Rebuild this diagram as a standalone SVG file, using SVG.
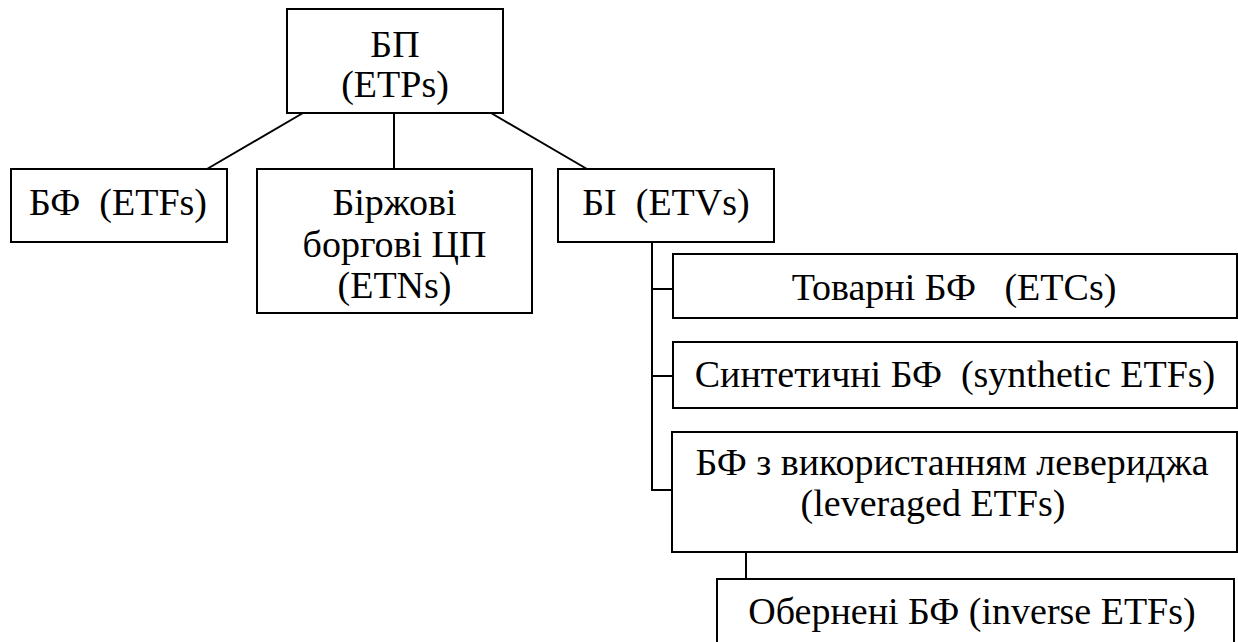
<svg xmlns="http://www.w3.org/2000/svg" width="1238" height="642" viewBox="0 0 1238 642">
  <style>
    .box { fill: #ffffff; stroke: #000000; stroke-width: 2; }
    .lnk { fill: none; stroke: #000000; stroke-width: 2; }
    .lbl { font-size: 38px; fill: #000000; text-anchor: middle; }
  </style>
  <rect width="1238" height="642" fill="#ffffff"/>

  <!-- connectors -->
  <g id="connectors">
    <line class="lnk" x1="303" y1="113" x2="207" y2="169"/>
    <line class="lnk" x1="394" y1="113" x2="394" y2="169"/>
    <line class="lnk" x1="491" y1="113" x2="587" y2="169"/>
    <polyline class="lnk" points="652,242 652,490 672,490"/>
    <line class="lnk" x1="652" y1="289" x2="673" y2="289"/>
    <line class="lnk" x1="652" y1="376" x2="673" y2="376"/>
    <line class="lnk" x1="746" y1="552" x2="746" y2="579"/>
  </g>

  <g font-family="'Liberation Serif', 'DejaVu Serif', serif">
  <g id="etps">
    <rect class="box" x="287" y="9" width="216" height="104"/>
    <text class="lbl" x="395" y="57">БП</text>
    <text class="lbl" x="395" y="97">(ETPs)</text>
  </g>

  <g id="etfs">
    <rect class="box" x="11" y="169" width="216" height="73"/>
    <text class="lbl" x="118" y="215" xml:space="preserve">БФ  (ETFs)</text>
  </g>

  <g id="etns">
    <rect class="box" x="257" y="169" width="275" height="144"/>
    <text class="lbl" x="394.5" y="215">Біржові</text>
    <text class="lbl" x="394.5" y="257">боргові ЦП</text>
    <text class="lbl" x="394.5" y="298">(ETNs)</text>
  </g>

  <g id="etvs">
    <rect class="box" x="558" y="169" width="216" height="73"/>
    <text class="lbl" x="666" y="215" xml:space="preserve">БІ  (ETVs)</text>
  </g>

  <g id="etcs">
    <rect class="box" x="673" y="254" width="564" height="64"/>
    <text class="lbl" x="954" y="300" xml:space="preserve">Товарні БФ   (ETCs)</text>
  </g>

  <g id="synthetic">
    <rect class="box" x="673" y="342" width="564" height="66"/>
    <text class="lbl" x="955" y="387" xml:space="preserve">Синтетичні БФ  (synthetic ETFs)</text>
  </g>

  <g id="leveraged">
    <rect class="box" x="672" y="432" width="565" height="120"/>
    <text class="lbl" x="952" y="475">БФ з використанням левериджа</text>
    <text class="lbl" x="933" y="516">(leveraged ETFs)</text>
  </g>

  <g id="inverse">
    <rect class="box" x="717" y="579" width="517" height="70"/>
    <text class="lbl" x="972" y="624">Обернені БФ (inverse ETFs)</text>
  </g>
  </g>
</svg>
